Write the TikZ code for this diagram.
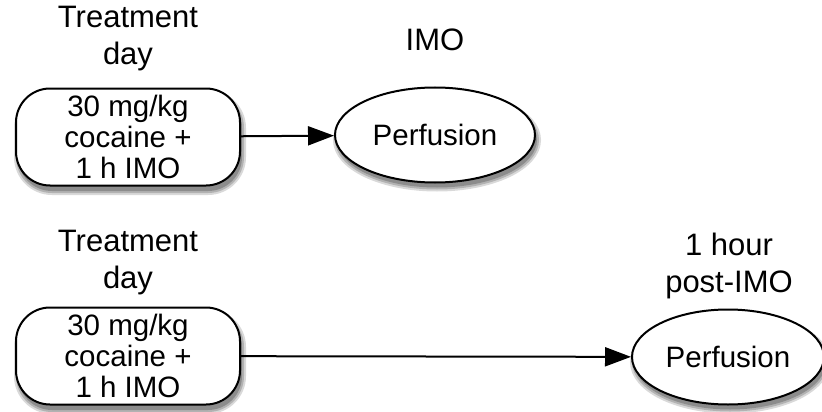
\documentclass[tikz,border=0pt]{standalone}
\usepackage{fontspec}
\setmainfont{Liberation Sans}
\usetikzlibrary{shapes.geometric,arrows.meta}
\tikzset{
  lbl/.style={align=center,font=\fontsize{31}{37}\selectfont,inner sep=0pt},
  stepbox/.style={draw,line width=2pt,fill=white,rounded corners=34pt,minimum width=224pt,minimum height=97pt,inner sep=0pt,align=center,font=\fontsize{29.5}{31}\selectfont},
  perf/.style={draw,ellipse,line width=2pt,fill=white,minimum width=200pt,minimum height=95pt,inner sep=0pt,font=\fontsize{29.5}{31}\selectfont},
  conn/.style={line width=2pt,-{Triangle[length=26pt,width=19pt]}},
  shlight/.style={line width=8pt,black!15},
  shmid/.style={line width=4pt,black!30},
  shdark/.style={black!45}
}
\begin{document}
\begin{tikzpicture}[x=1pt,y=-1pt]
\useasboundingbox (0,0) rectangle (822,412);
% soft shadows (drawn first, behind the shapes)
\filldraw[shlight] [rounded corners=34pt] (18,94) rectangle (242,191);
\filldraw[shmid] [rounded corners=34pt] (18,94) rectangle (242,191);
\fill[shdark] [rounded corners=34pt] (18,94) rectangle (242,191);
\filldraw[shlight] (437,140) ellipse [x radius=100, y radius=47.5];
\filldraw[shmid] (437,140) ellipse [x radius=100, y radius=47.5];
\fill[shdark] (437,140) ellipse [x radius=100, y radius=47.5];
\filldraw[shlight] [rounded corners=34pt] (18,313) rectangle (242,410);
\filldraw[shmid] [rounded corners=34pt] (18,313) rectangle (242,410);
\fill[shdark] [rounded corners=34pt] (18,313) rectangle (242,410);
\filldraw[shlight] (730,362) ellipse [x radius=96, y radius=47.5];
\filldraw[shmid] (730,362) ellipse [x radius=96, y radius=47.5];
\fill[shdark] (730,362) ellipse [x radius=96, y radius=47.5];
% diagram
\node[lbl] (t1) at (128,39) {Treatment\\day};
\node[lbl] (i1) at (435,40) {IMO};
\node[stepbox] (b1) at (128,137) {30 mg/kg\\cocaine +\\1 h IMO};
\node[perf] (p1) at (435,135) {Perfusion};
\draw[conn] (b1) -- (p1);
\node[lbl] (t2) at (128,263) {Treatment\\day};
\node[lbl] (i2) at (729,266) {1 hour\\post-IMO};
\node[stepbox] (b2) at (128,356) {30 mg/kg\\cocaine +\\1 h IMO};
\node[perf,minimum width=192pt] (p2) at (728,357) {Perfusion};
\draw[conn] (b2) -- (p2);
\end{tikzpicture}
\end{document}
